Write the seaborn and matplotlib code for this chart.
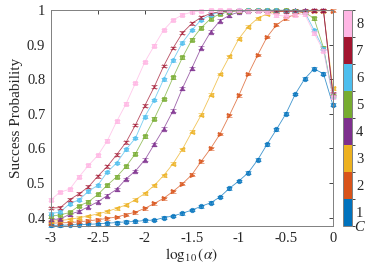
import numpy as np
import seaborn as sns
import matplotlib
import matplotlib.pyplot as plt
from matplotlib.colors import ListedColormap, BoundaryNorm

# --- data ---
log_alpha = [-3.0, -2.9, -2.8, -2.7, -2.6, -2.5, -2.4, -2.3, -2.2, -2.1, -2.0,
             -1.9, -1.8, -1.7, -1.6, -1.5, -1.4, -1.3, -1.2, -1.1, -1.0,
             -0.9, -0.8, -0.7, -0.6, -0.5, -0.4, -0.3, -0.2, -0.1, 0.0]

c1 = [0.378, 0.378, 0.379, 0.380, 0.381, 0.382, 0.384, 0.386, 0.388, 0.389, 0.392,
      0.393, 0.400, 0.405, 0.413, 0.422, 0.433, 0.443, 0.460, 0.485, 0.506,
      0.530, 0.567, 0.612, 0.655, 0.700, 0.757, 0.801, 0.830, 0.816, 0.726]
c2 = [0.384, 0.385, 0.386, 0.388, 0.391, 0.394, 0.398, 0.402, 0.409, 0.416, 0.427,
      0.441, 0.456, 0.476, 0.498, 0.524, 0.563, 0.600, 0.642, 0.696, 0.753,
      0.815, 0.870, 0.922, 0.957, 0.976, 0.988, 0.995, 0.997, 0.998, 0.998]
c3 = [0.389, 0.392, 0.395, 0.400, 0.405, 0.411, 0.418, 0.427, 0.437, 0.452, 0.470,
      0.493, 0.522, 0.556, 0.598, 0.648, 0.697, 0.755, 0.815, 0.866, 0.917,
      0.952, 0.976, 0.989, 0.995, 0.997, 0.998, 0.998, 0.998, 0.998, 0.774]
c4 = [0.395, 0.396, 0.410, 0.418, 0.432, 0.446, 0.464, 0.482, 0.512, 0.535, 0.567,
      0.612, 0.657, 0.709, 0.774, 0.832, 0.891, 0.937, 0.969, 0.985, 0.994,
      0.998, 0.999, 0.999, 0.999, 0.999, 0.999, 0.999, 0.999, 0.999, 0.755]
c5 = [0.404, 0.408, 0.415, 0.434, 0.446, 0.467, 0.494, 0.518, 0.548, 0.585, 0.635,
      0.686, 0.743, 0.805, 0.863, 0.914, 0.949, 0.975, 0.989, 0.995, 0.998,
      0.999, 0.999, 0.999, 0.999, 0.999, 0.998, 0.993, 0.976, 0.891, 0.752]
c6 = [0.411, 0.417, 0.440, 0.452, 0.476, 0.494, 0.532, 0.558, 0.597, 0.630, 0.692,
      0.740, 0.800, 0.855, 0.906, 0.942, 0.972, 0.986, 0.994, 0.997, 0.999,
      0.999, 0.999, 0.999, 0.999, 0.998, 0.997, 0.995, 0.942, 0.888, 0.750]
c7 = [0.428, 0.429, 0.452, 0.469, 0.489, 0.520, 0.548, 0.582, 0.618, 0.668, 0.724,
      0.778, 0.838, 0.890, 0.934, 0.961, 0.979, 0.990, 0.995, 0.997, 0.998,
      0.998, 0.998, 0.997, 0.996, 0.996, 0.996, 0.997, 0.999, 0.999, 0.758]
c8 = [0.452, 0.474, 0.482, 0.518, 0.551, 0.580, 0.622, 0.678, 0.729, 0.789, 0.850,
      0.897, 0.942, 0.971, 0.986, 0.994, 0.997, 0.999, 0.999, 0.999, 0.999,
      0.998, 0.997, 0.993, 0.985, 0.982, 0.985, 0.988, 0.933, 0.882, 0.748]
err = 0.004  # half-height of the small error bars

series = [c1, c2, c3, c4, c5, c6, c7, c8]
c_labels = ['1', '2', '3', '4', '5', '6', '7', '8']
colors = ['#0072BD', '#D95319', '#EDB120', '#7E2F8E', '#77AC30', '#4DBEEE', '#A2142F', '#FFB6E4']
markers = ['o', '>', '<', '^', 's', 'h', 'x', 's']

xticks = [-3, -2.5, -2, -1.5, -1, -0.5, 0]
xticklabels = ['-3', '-2.5', '-2', '-1.5', '-1', '-0.5', '0']
yticks = [0.4, 0.5, 0.6, 0.7, 0.8, 0.9, 1.0]
yticklabels = ['0.4', '0.5', '0.6', '0.7', '0.8', '0.9', '1']

# --- style ---
sns.set_style("white")
plt.rcParams['font.family'] = ['Liberation Serif', 'DejaVu Serif']
plt.rcParams['mathtext.fontset'] = 'stix'
plt.rcParams['font.size'] = 10.5
grey = '#262626'

fig = plt.figure(figsize=(3.74, 2.70), dpi=100)
ax = fig.add_axes([0.136, 0.163, 0.754, 0.800])

for vals, col, mk in zip(series, colors, markers):
    sns.lineplot(x=log_alpha, y=vals, color=col, marker=mk, markersize=3.2,
                 markeredgecolor=col, markeredgewidth=0.6, linewidth=0.6,
                 alpha=0.75, ax=ax)
    ax.errorbar(log_alpha, vals, yerr=err, fmt='none', ecolor=col, alpha=0.75,
                elinewidth=0.5, capsize=2.2, capthick=0.5)

for ln in ax.lines:
    ln.set_clip_on(False)

ax.set_xlim(-3, 0)
ax.set_ylim(0.376, 1.0)
ax.set_xticks(xticks)
ax.set_xticklabels(xticklabels)
ax.set_yticks(yticks)
ax.set_yticklabels(yticklabels)
ax.tick_params(direction='in', length=3, width=0.6, colors=grey, labelsize=10.5,
               top=True, right=True, pad=4)
for sp in ax.spines.values():
    sp.set_color('#808080')
    sp.set_linewidth(0.7)
ax.set_xlabel(r'$\log_{10}(\alpha)$', fontsize=11, color=grey, labelpad=1)
ax.set_ylabel('Success Probability', fontsize=11, color=grey, labelpad=3)

# --- discrete colour bar for C ---
cax = fig.add_axes([0.917, 0.163, 0.024, 0.800])
cmap = ListedColormap(colors)
norm = BoundaryNorm(np.arange(0.5, 9.5, 1), cmap.N)
sm = matplotlib.cm.ScalarMappable(norm=norm, cmap=cmap)
cb = fig.colorbar(sm, cax=cax, ticks=range(1, 9))
cb.ax.set_yticklabels(c_labels)
cb.ax.tick_params(direction='in', length=2, width=0.6, colors=grey, labelsize=10.5, pad=3)
cb.outline.set_edgecolor('#808080')
cb.outline.set_linewidth(0.7)
cax.text(1.25, -0.005, 'C', transform=cax.transAxes, fontsize=10.5, color=grey,
         ha='left', va='center', style='italic')

fig.savefig('out.png', dpi=100)
